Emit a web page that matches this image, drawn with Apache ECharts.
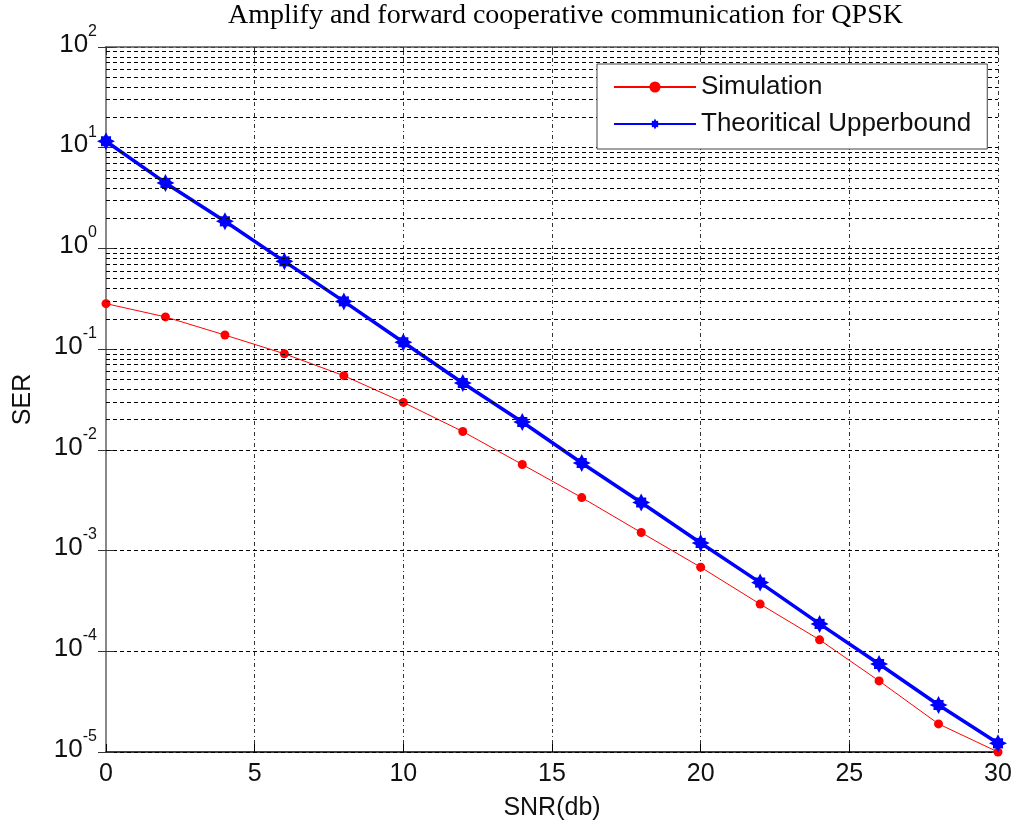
<!DOCTYPE html>
<html>
<head>
<meta charset="utf-8">
<script src="https://cdn.jsdelivr.net/npm/echarts@6/dist/echarts.min.js"></script>
<style>
  html, body { margin: 0; padding: 0; background: #fff; }
  #chart { width: 1018px; height: 825px; }
</style>
</head>
<body>
<div id="chart"></div>
<script>
// SNR points (dB)
const snr = [0, 2, 4, 6, 8, 10, 12, 14, 16, 18, 20, 22, 24, 26, 28, 30];
// Simulated symbol error rate
const simulation = [0.283, 0.209, 0.138, 0.090, 0.0545, 0.0296, 0.0152, 0.00716,
  0.00336, 0.00151, 0.000684, 0.000294, 0.000130, 0.0000508, 0.0000190, 0.0000100];
// Theoretical upper bound on the symbol error rate
const upperbound = [11.6, 4.47, 1.86, 0.744, 0.298, 0.117, 0.0461, 0.0189,
  0.0074, 0.0030, 0.00119, 0.000481, 0.000187, 0.0000748, 0.0000293, 0.0000122];
// Log-axis decades and the minor grid multipliers inside each decade
const decadeExponents = [-5, -4, -3, -2, -1, 0, 1];
const minorMultipliers = [2, 3, 4, 5, 6, 7, 8, 9];
const xTicks = [0, 5, 10, 15, 20, 25, 30];

const minorGridValues = [];
decadeExponents.forEach(function (e) {
  minorMultipliers.forEach(function (m) {
    minorGridValues.push(m * Math.pow(10, e));
  });
});

const sans = 'Liberation Sans, Arial, sans-serif';
const gridDash = [4, 3];

// Chunky eight-pointed star marker for the upper-bound curve
const starPath = 'path://M10,0 L12.3,4.46 L15.66,4.34 L15.54,7.7 L20,10 L15.54,12.3 L15.66,15.66 ' +
  'L12.3,15.54 L10,20 L7.7,15.54 L4.34,15.66 L4.46,12.3 L0,10 L4.46,7.7 L4.34,4.34 L7.7,4.46 Z';

const chart = echarts.init(document.getElementById('chart'), null, { renderer: 'canvas' });

const option = {
  backgroundColor: '#ffffff',
  animation: false,
  title: {
    text: 'Amplify and forward cooperative communication for QPSK',
    left: 228,
    top: 2,
    padding: 0,
    textStyle: {
      fontFamily: 'Liberation Serif, Times New Roman, serif',
      fontSize: 28,
      fontWeight: 'normal',
      color: '#000'
    }
  },
  legend: {
    data: ['Simulation', 'Theoritical Upperbound'],
    orient: 'vertical',
    left: 597,
    top: 64,
    z: 10,
    padding: [10, 16, 12, 16],
    itemGap: 11,
    itemWidth: 82,
    itemHeight: 14,
    backgroundColor: '#ffffff',
    borderColor: '#444',
    borderWidth: 1,
    borderRadius: 0,
    selectedMode: false,
    textStyle: {
      fontFamily: sans,
      fontSize: 26,
      color: '#111'
    }
  },
  grid: {
    left: 106,
    right: 20,
    top: 47,
    bottom: 73,
    containLabel: false,
    outerBoundsMode: 'none'
  },
  xAxis: [
    {
      type: 'value',
      min: 0,
      max: 30,
      interval: 5,
      name: 'SNR(db)',
      nameLocation: 'middle',
      nameGap: 44,
      nameTextStyle: { fontFamily: sans, fontSize: 25, color: '#111' },
      axisLine: { show: true, lineStyle: { color: '#000', width: 1.5 } },
      axisTick: { show: true, inside: true, length: 8, lineStyle: { color: '#000' } },
      axisLabel: {
        fontFamily: sans, fontSize: 25, color: '#111', margin: 10,
        formatter: function (v) { return xTicks.indexOf(v) >= 0 ? String(v) : ''; }
      },
      splitLine: { show: true, lineStyle: { type: [4, 3, 1, 3], color: '#333', width: 1 } }
    },
    {
      type: 'value',
      position: 'top',
      min: 0,
      max: 30,
      interval: 5,
      axisLine: { show: true, lineStyle: { color: '#555', width: 1.5 } },
      axisTick: { show: true, inside: true, length: 8, lineStyle: { color: '#333' } },
      axisLabel: { show: false },
      splitLine: { show: false }
    }
  ],
  yAxis: [
    {
      type: 'log',
      logBase: 10,
      min: 1e-5,
      max: 100,
      interval: 1,
      name: 'SER',
      nameLocation: 'middle',
      nameGap: 70,
      nameRotate: 90,
      nameTextStyle: { fontFamily: sans, fontSize: 25, color: '#111' },
      axisLine: { show: true, lineStyle: { color: '#888', width: 2 } },
      axisTick: { show: true, inside: true, length: 8, lineStyle: { color: '#333' } },
      axisLabel: {
        margin: 9,
        color: '#111',
        formatter: function (v) {
          const e = Math.round(Math.log10(v));
          return '{b|10}{s|' + e + '}';
        },
        rich: {
          b: { fontFamily: sans, fontSize: 26, color: '#111', verticalAlign: 'bottom', padding: [0, 0, 13, 0] },
          s: { fontFamily: sans, fontSize: 16, color: '#111', verticalAlign: 'top', padding: [0, 0, 31, 0] }
        }
      },
      splitLine: { show: true, lineStyle: { type: gridDash, color: '#000', width: 1 } }
    },
    {
      type: 'log',
      logBase: 10,
      min: 1e-5,
      max: 100,
      interval: 1,
      position: 'right',
      axisLine: { show: true, lineStyle: { color: '#888', width: 1.5 } },
      axisTick: { show: true, inside: true, length: 8, lineStyle: { color: '#333' } },
      axisLabel: { show: false },
      splitLine: { show: false }
    }
  ],
  series: [
    {
      name: 'minor-grid',
      type: 'line',
      data: [],
      z: 1,
      silent: true,
      markLine: {
        silent: true,
        animation: false,
        symbol: ['none', 'none'],
        label: { show: false },
        emphasis: { disabled: true },
        lineStyle: { type: gridDash, color: '#000', width: 1 },
        data: minorGridValues.map(function (v) { return { yAxis: v }; })
      }
    },
    {
      name: 'Simulation',
      type: 'line',
      z: 3,
      data: snr.map(function (x, i) { return [x, simulation[i]]; }),
      symbol: 'circle',
      symbolSize: 9,
      showAllSymbol: true,
      lineStyle: { color: '#ff0000', width: 1 },
      itemStyle: { color: '#ff0000' },
      emphasis: { disabled: true }
    },
    {
      name: 'Theoritical Upperbound',
      type: 'line',
      z: 4,
      data: snr.map(function (x, i) { return [x, upperbound[i]]; }),
      symbol: starPath,
      symbolSize: 18,
      showAllSymbol: true,
      lineStyle: { color: '#0000ff', width: 3.5 },
      itemStyle: { color: '#0000ff' },
      emphasis: { disabled: true }
    }
  ]
};

chart.setOption(option);
</script>
</body>
</html>
